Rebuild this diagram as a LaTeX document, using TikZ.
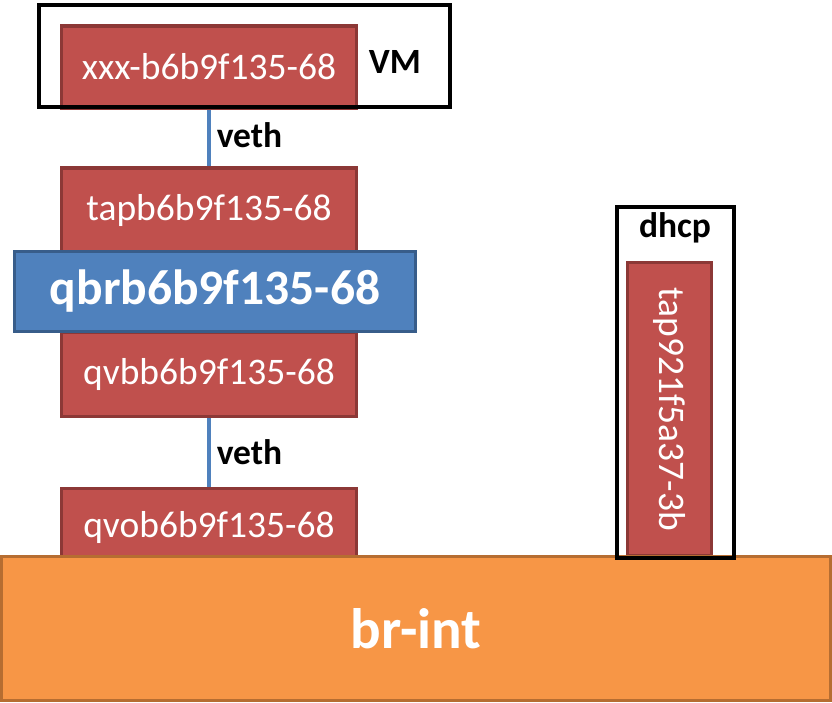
\documentclass[tikz,border=0pt]{standalone}
\usepackage{fontspec}
\setmainfont{Carlito}
\definecolor{portfill}{HTML}{C0504D}
\definecolor{portdraw}{HTML}{8C3836}
\definecolor{brfill}{HTML}{4F81BD}
\definecolor{brdraw}{HTML}{385D8A}
\definecolor{intfill}{HTML}{F79646}
\definecolor{intdraw}{HTML}{B66D31}
\newcommand{\fsz}[1]{\fontsize{#1}{#1}\selectfont}
\tikzset{
  port/.style={draw=portdraw, fill=portfill, line width=3.5pt, text=white, inner sep=0pt,
    minimum width=295pt, font=\fsz{37.5}},
  qbridge/.style={draw=brdraw, fill=brfill, line width=3.5pt, text=white, inner sep=0pt,
    font=\fsz{49.5}\bfseries},
  intbridge/.style={draw=intdraw, fill=intfill, line width=3.5pt, text=white, inner sep=0pt,
    font=\fsz{57}\bfseries},
  hostbox/.style={draw=black, line width=4pt, inner sep=0pt},
  lbl/.style={font=\fsz{35.5}\bfseries, inner sep=0pt},
  vethline/.style={draw=brfill, line width=3.5pt},
}
\begin{document}
\begin{tikzpicture}[x=1pt,y=-1pt]
\useasboundingbox (0,0) rectangle (832,702);
% left stack
\node[port, minimum height=82pt] (xxx) at (209,67) {xxx-b6b9f135-68};
\node[hostbox, minimum width=411pt, minimum height=102pt] (vm) at (244.5,56) {};
\node[lbl] (vmlbl) at (395,62) {VM};
\node[port, minimum height=84pt] (tapb) at (209,210) {tapb6b9f135-68};
\node[port, minimum height=84pt] (qvbb) at (209,374.5) {qvbb6b9f135-68};
\node[qbridge, minimum width=401pt, minimum height=80pt] (qbr) at (215,291.5) {qbrb6b9f135-68};
\node[port, minimum height=77pt] (qvob) at (209,527) {qvob6b9f135-68};
% dhcp
\node[port, rotate=-90, minimum width=293.5pt, minimum height=84pt] (tapd) at (669.5,409.25) {tap921f5a37-3b};
% br-int
\node[intbridge, minimum width=829pt, minimum height=144pt] (brint) at (416,628.5) {br-int};
\node[hostbox, minimum width=117pt, minimum height=351pt, anchor=north] (dhcp) at (675.5,205) {};
\node[lbl] (dhcplbl) at (675,228) {dhcp};
% veth connectors
\draw[vethline] (xxx.south) -- node[lbl, right=6pt, pos=0.45] {veth} (tapb.north);
\draw[vethline] (qvbb.south) -- node[lbl, right=6pt, pos=0.5] {veth} (qvob.north);
\end{tikzpicture}
\end{document}
